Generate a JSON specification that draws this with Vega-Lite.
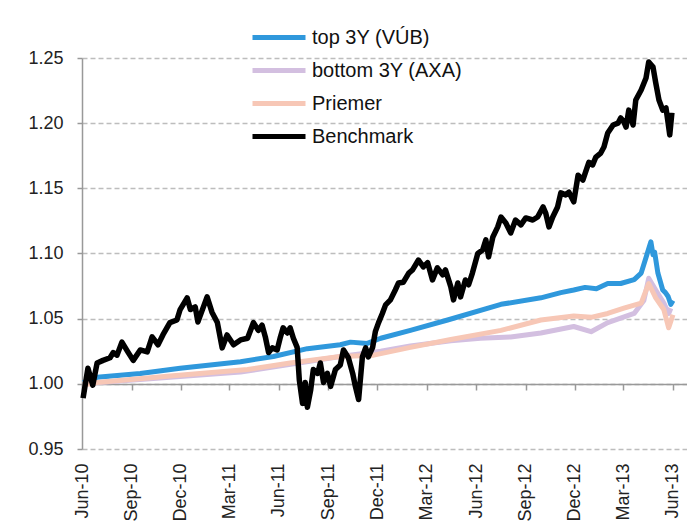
{
  "$schema": "https://vega.github.io/schema/vega-lite/v6.json",
  "autosize": {"type": "none"},
  "padding": {"left": 82, "top": 58, "right": 0, "bottom": 74},
  "width": 605,
  "height": 391,
  "background": "white",
  "config": {
    "view": {"stroke": null},
    "font": "Liberation Sans"
  },
  "data": {"values": [
    {"series": "top 3Y (VÚB)", "date": "2010-06-03", "value": 1.001},
    {"series": "top 3Y (VÚB)", "date": "2010-06-29", "value": 1.005},
    {"series": "top 3Y (VÚB)", "date": "2010-09-17", "value": 1.008},
    {"series": "top 3Y (VÚB)", "date": "2010-11-30", "value": 1.012},
    {"series": "top 3Y (VÚB)", "date": "2011-03-22", "value": 1.017},
    {"series": "top 3Y (VÚB)", "date": "2011-05-22", "value": 1.021},
    {"series": "top 3Y (VÚB)", "date": "2011-07-24", "value": 1.027},
    {"series": "top 3Y (VÚB)", "date": "2011-09-23", "value": 1.030},
    {"series": "top 3Y (VÚB)", "date": "2011-10-12", "value": 1.032},
    {"series": "top 3Y (VÚB)", "date": "2011-11-12", "value": 1.031},
    {"series": "top 3Y (VÚB)", "date": "2011-12-07", "value": 1.035},
    {"series": "top 3Y (VÚB)", "date": "2012-01-31", "value": 1.041},
    {"series": "top 3Y (VÚB)", "date": "2012-04-09", "value": 1.049},
    {"series": "top 3Y (VÚB)", "date": "2012-07-17", "value": 1.061},
    {"series": "top 3Y (VÚB)", "date": "2012-09-29", "value": 1.066},
    {"series": "top 3Y (VÚB)", "date": "2012-11-05", "value": 1.070},
    {"series": "top 3Y (VÚB)", "date": "2012-11-29", "value": 1.072},
    {"series": "top 3Y (VÚB)", "date": "2012-12-20", "value": 1.074},
    {"series": "top 3Y (VÚB)", "date": "2013-01-10", "value": 1.073},
    {"series": "top 3Y (VÚB)", "date": "2013-01-31", "value": 1.077},
    {"series": "top 3Y (VÚB)", "date": "2013-02-24", "value": 1.077},
    {"series": "top 3Y (VÚB)", "date": "2013-03-21", "value": 1.080},
    {"series": "top 3Y (VÚB)", "date": "2013-04-03", "value": 1.085},
    {"series": "top 3Y (VÚB)", "date": "2013-04-12", "value": 1.097},
    {"series": "top 3Y (VÚB)", "date": "2013-04-21", "value": 1.109},
    {"series": "top 3Y (VÚB)", "date": "2013-04-25", "value": 1.099},
    {"series": "top 3Y (VÚB)", "date": "2013-04-28", "value": 1.101},
    {"series": "top 3Y (VÚB)", "date": "2013-05-04", "value": 1.085},
    {"series": "top 3Y (VÚB)", "date": "2013-05-13", "value": 1.072},
    {"series": "top 3Y (VÚB)", "date": "2013-05-18", "value": 1.070},
    {"series": "top 3Y (VÚB)", "date": "2013-05-23", "value": 1.067},
    {"series": "top 3Y (VÚB)", "date": "2013-05-28", "value": 1.061},
    {"series": "top 3Y (VÚB)", "date": "2013-06-01", "value": 1.064},
    {"series": "bottom 3Y (AXA)", "date": "2010-06-03", "value": 1.000},
    {"series": "bottom 3Y (AXA)", "date": "2010-11-11", "value": 1.005},
    {"series": "bottom 3Y (AXA)", "date": "2011-03-22", "value": 1.009},
    {"series": "bottom 3Y (AXA)", "date": "2011-09-23", "value": 1.021},
    {"series": "bottom 3Y (AXA)", "date": "2011-12-07", "value": 1.025},
    {"series": "bottom 3Y (AXA)", "date": "2012-01-31", "value": 1.029},
    {"series": "bottom 3Y (AXA)", "date": "2012-04-15", "value": 1.033},
    {"series": "bottom 3Y (AXA)", "date": "2012-06-09", "value": 1.035},
    {"series": "bottom 3Y (AXA)", "date": "2012-08-04", "value": 1.036},
    {"series": "bottom 3Y (AXA)", "date": "2012-09-29", "value": 1.039},
    {"series": "bottom 3Y (AXA)", "date": "2012-11-29", "value": 1.044},
    {"series": "bottom 3Y (AXA)", "date": "2012-12-31", "value": 1.040},
    {"series": "bottom 3Y (AXA)", "date": "2013-01-31", "value": 1.047},
    {"series": "bottom 3Y (AXA)", "date": "2013-03-21", "value": 1.054},
    {"series": "bottom 3Y (AXA)", "date": "2013-04-08", "value": 1.064},
    {"series": "bottom 3Y (AXA)", "date": "2013-04-17", "value": 1.081},
    {"series": "bottom 3Y (AXA)", "date": "2013-04-30", "value": 1.072},
    {"series": "bottom 3Y (AXA)", "date": "2013-05-15", "value": 1.062},
    {"series": "bottom 3Y (AXA)", "date": "2013-05-24", "value": 1.054},
    {"series": "bottom 3Y (AXA)", "date": "2013-05-28", "value": 1.058},
    {"series": "Priemer", "date": "2010-06-03", "value": 0.999},
    {"series": "Priemer", "date": "2010-06-29", "value": 1.001},
    {"series": "Priemer", "date": "2010-11-11", "value": 1.006},
    {"series": "Priemer", "date": "2011-04-04", "value": 1.011},
    {"series": "Priemer", "date": "2011-06-22", "value": 1.016},
    {"series": "Priemer", "date": "2011-09-23", "value": 1.021},
    {"series": "Priemer", "date": "2011-11-24", "value": 1.022},
    {"series": "Priemer", "date": "2012-01-31", "value": 1.028},
    {"series": "Priemer", "date": "2012-04-15", "value": 1.034},
    {"series": "Priemer", "date": "2012-07-17", "value": 1.041},
    {"series": "Priemer", "date": "2012-09-29", "value": 1.049},
    {"series": "Priemer", "date": "2012-11-29", "value": 1.052},
    {"series": "Priemer", "date": "2012-12-31", "value": 1.051},
    {"series": "Priemer", "date": "2013-01-31", "value": 1.054},
    {"series": "Priemer", "date": "2013-03-02", "value": 1.058},
    {"series": "Priemer", "date": "2013-04-03", "value": 1.062},
    {"series": "Priemer", "date": "2013-04-17", "value": 1.077},
    {"series": "Priemer", "date": "2013-04-30", "value": 1.066},
    {"series": "Priemer", "date": "2013-05-15", "value": 1.057},
    {"series": "Priemer", "date": "2013-05-24", "value": 1.043},
    {"series": "Priemer", "date": "2013-06-01", "value": 1.053},
    {"series": "Benchmark", "date": "2010-06-03", "value": 0.989},
    {"series": "Benchmark", "date": "2010-06-12", "value": 1.012},
    {"series": "Benchmark", "date": "2010-06-21", "value": 0.999},
    {"series": "Benchmark", "date": "2010-06-29", "value": 1.016},
    {"series": "Benchmark", "date": "2010-07-10", "value": 1.018},
    {"series": "Benchmark", "date": "2010-07-23", "value": 1.020},
    {"series": "Benchmark", "date": "2010-07-29", "value": 1.024},
    {"series": "Benchmark", "date": "2010-08-05", "value": 1.022},
    {"series": "Benchmark", "date": "2010-08-14", "value": 1.032},
    {"series": "Benchmark", "date": "2010-08-25", "value": 1.0245},
    {"series": "Benchmark", "date": "2010-09-04", "value": 1.018},
    {"series": "Benchmark", "date": "2010-09-17", "value": 1.026},
    {"series": "Benchmark", "date": "2010-09-30", "value": 1.0245},
    {"series": "Benchmark", "date": "2010-10-09", "value": 1.036},
    {"series": "Benchmark", "date": "2010-10-20", "value": 1.030},
    {"series": "Benchmark", "date": "2010-10-29", "value": 1.0375},
    {"series": "Benchmark", "date": "2010-11-11", "value": 1.047},
    {"series": "Benchmark", "date": "2010-11-24", "value": 1.049},
    {"series": "Benchmark", "date": "2010-11-30", "value": 1.057},
    {"series": "Benchmark", "date": "2010-12-13", "value": 1.066},
    {"series": "Benchmark", "date": "2010-12-19", "value": 1.057},
    {"series": "Benchmark", "date": "2010-12-28", "value": 1.059},
    {"series": "Benchmark", "date": "2011-01-02", "value": 1.0475},
    {"series": "Benchmark", "date": "2011-01-19", "value": 1.0667},
    {"series": "Benchmark", "date": "2011-01-28", "value": 1.055},
    {"series": "Benchmark", "date": "2011-02-07", "value": 1.047},
    {"series": "Benchmark", "date": "2011-02-16", "value": 1.0276},
    {"series": "Benchmark", "date": "2011-02-25", "value": 1.0375},
    {"series": "Benchmark", "date": "2011-03-09", "value": 1.030},
    {"series": "Benchmark", "date": "2011-03-22", "value": 1.0337},
    {"series": "Benchmark", "date": "2011-04-04", "value": 1.035},
    {"series": "Benchmark", "date": "2011-04-15", "value": 1.047},
    {"series": "Benchmark", "date": "2011-04-24", "value": 1.041},
    {"series": "Benchmark", "date": "2011-05-01", "value": 1.045},
    {"series": "Benchmark", "date": "2011-05-07", "value": 1.036},
    {"series": "Benchmark", "date": "2011-05-13", "value": 1.024},
    {"series": "Benchmark", "date": "2011-05-20", "value": 1.0276},
    {"series": "Benchmark", "date": "2011-05-29", "value": 1.026},
    {"series": "Benchmark", "date": "2011-06-04", "value": 1.036},
    {"series": "Benchmark", "date": "2011-06-09", "value": 1.043},
    {"series": "Benchmark", "date": "2011-06-17", "value": 1.039},
    {"series": "Benchmark", "date": "2011-06-22", "value": 1.043},
    {"series": "Benchmark", "date": "2011-06-28", "value": 1.035},
    {"series": "Benchmark", "date": "2011-07-05", "value": 1.028},
    {"series": "Benchmark", "date": "2011-07-09", "value": 1.003},
    {"series": "Benchmark", "date": "2011-07-15", "value": 0.985},
    {"series": "Benchmark", "date": "2011-07-20", "value": 1.001},
    {"series": "Benchmark", "date": "2011-07-24", "value": 0.982},
    {"series": "Benchmark", "date": "2011-07-30", "value": 0.995},
    {"series": "Benchmark", "date": "2011-08-04", "value": 1.011},
    {"series": "Benchmark", "date": "2011-08-12", "value": 1.008},
    {"series": "Benchmark", "date": "2011-08-17", "value": 1.016},
    {"series": "Benchmark", "date": "2011-08-23", "value": 1.001},
    {"series": "Benchmark", "date": "2011-08-30", "value": 1.008},
    {"series": "Benchmark", "date": "2011-09-05", "value": 0.998},
    {"series": "Benchmark", "date": "2011-09-14", "value": 1.011},
    {"series": "Benchmark", "date": "2011-09-23", "value": 1.0145},
    {"series": "Benchmark", "date": "2011-09-29", "value": 1.026},
    {"series": "Benchmark", "date": "2011-10-08", "value": 1.020},
    {"series": "Benchmark", "date": "2011-10-16", "value": 1.008},
    {"series": "Benchmark", "date": "2011-10-21", "value": 0.998},
    {"series": "Benchmark", "date": "2011-10-27", "value": 0.988},
    {"series": "Benchmark", "date": "2011-11-03", "value": 1.0207},
    {"series": "Benchmark", "date": "2011-11-09", "value": 1.0276},
    {"series": "Benchmark", "date": "2011-11-14", "value": 1.0207},
    {"series": "Benchmark", "date": "2011-11-22", "value": 1.028},
    {"series": "Benchmark", "date": "2011-11-27", "value": 1.040},
    {"series": "Benchmark", "date": "2011-12-03", "value": 1.047},
    {"series": "Benchmark", "date": "2011-12-10", "value": 1.054},
    {"series": "Benchmark", "date": "2011-12-16", "value": 1.0606},
    {"series": "Benchmark", "date": "2011-12-25", "value": 1.0644},
    {"series": "Benchmark", "date": "2012-01-03", "value": 1.072},
    {"series": "Benchmark", "date": "2012-01-09", "value": 1.0774},
    {"series": "Benchmark", "date": "2012-01-18", "value": 1.078},
    {"series": "Benchmark", "date": "2012-01-28", "value": 1.085},
    {"series": "Benchmark", "date": "2012-02-04", "value": 1.0874},
    {"series": "Benchmark", "date": "2012-02-15", "value": 1.095},
    {"series": "Benchmark", "date": "2012-02-24", "value": 1.0897},
    {"series": "Benchmark", "date": "2012-03-03", "value": 1.093},
    {"series": "Benchmark", "date": "2012-03-12", "value": 1.0797},
    {"series": "Benchmark", "date": "2012-03-21", "value": 1.089},
    {"series": "Benchmark", "date": "2012-03-31", "value": 1.0836},
    {"series": "Benchmark", "date": "2012-04-05", "value": 1.0874},
    {"series": "Benchmark", "date": "2012-04-15", "value": 1.0744},
    {"series": "Benchmark", "date": "2012-04-20", "value": 1.0644},
    {"series": "Benchmark", "date": "2012-04-28", "value": 1.0774},
    {"series": "Benchmark", "date": "2012-05-03", "value": 1.0667},
    {"series": "Benchmark", "date": "2012-05-12", "value": 1.0797},
    {"series": "Benchmark", "date": "2012-05-18", "value": 1.076},
    {"series": "Benchmark", "date": "2012-05-25", "value": 1.085},
    {"series": "Benchmark", "date": "2012-06-04", "value": 1.100},
    {"series": "Benchmark", "date": "2012-06-13", "value": 1.1027},
    {"series": "Benchmark", "date": "2012-06-19", "value": 1.1104},
    {"series": "Benchmark", "date": "2012-06-24", "value": 1.0974},
    {"series": "Benchmark", "date": "2012-07-02", "value": 1.1127},
    {"series": "Benchmark", "date": "2012-07-11", "value": 1.1204},
    {"series": "Benchmark", "date": "2012-07-17", "value": 1.128},
    {"series": "Benchmark", "date": "2012-07-26", "value": 1.1234},
    {"series": "Benchmark", "date": "2012-08-04", "value": 1.1158},
    {"series": "Benchmark", "date": "2012-08-13", "value": 1.1257},
    {"series": "Benchmark", "date": "2012-08-23", "value": 1.122},
    {"series": "Benchmark", "date": "2012-09-01", "value": 1.1273},
    {"series": "Benchmark", "date": "2012-09-14", "value": 1.1257},
    {"series": "Benchmark", "date": "2012-09-23", "value": 1.128},
    {"series": "Benchmark", "date": "2012-10-03", "value": 1.1357},
    {"series": "Benchmark", "date": "2012-10-08", "value": 1.131},
    {"series": "Benchmark", "date": "2012-10-14", "value": 1.1204},
    {"series": "Benchmark", "date": "2012-10-21", "value": 1.128},
    {"series": "Benchmark", "date": "2012-10-30", "value": 1.1357},
    {"series": "Benchmark", "date": "2012-11-05", "value": 1.1465},
    {"series": "Benchmark", "date": "2012-11-14", "value": 1.145},
    {"series": "Benchmark", "date": "2012-11-20", "value": 1.147},
    {"series": "Benchmark", "date": "2012-11-29", "value": 1.1396},
    {"series": "Benchmark", "date": "2012-12-07", "value": 1.160},
    {"series": "Benchmark", "date": "2012-12-16", "value": 1.1564},
    {"series": "Benchmark", "date": "2012-12-21", "value": 1.1626},
    {"series": "Benchmark", "date": "2012-12-27", "value": 1.170},
    {"series": "Benchmark", "date": "2013-01-03", "value": 1.168},
    {"series": "Benchmark", "date": "2013-01-09", "value": 1.174},
    {"series": "Benchmark", "date": "2013-01-18", "value": 1.1771},
    {"series": "Benchmark", "date": "2013-01-24", "value": 1.1817},
    {"series": "Benchmark", "date": "2013-01-31", "value": 1.1925},
    {"series": "Benchmark", "date": "2013-02-10", "value": 1.1986},
    {"series": "Benchmark", "date": "2013-02-19", "value": 1.200},
    {"series": "Benchmark", "date": "2013-02-24", "value": 1.204},
    {"series": "Benchmark", "date": "2013-03-02", "value": 1.201},
    {"series": "Benchmark", "date": "2013-03-06", "value": 1.197},
    {"series": "Benchmark", "date": "2013-03-11", "value": 1.210},
    {"series": "Benchmark", "date": "2013-03-19", "value": 1.1986},
    {"series": "Benchmark", "date": "2013-03-24", "value": 1.2178},
    {"series": "Benchmark", "date": "2013-04-03", "value": 1.2255},
    {"series": "Benchmark", "date": "2013-04-12", "value": 1.2347},
    {"series": "Benchmark", "date": "2013-04-17", "value": 1.247},
    {"series": "Benchmark", "date": "2013-04-25", "value": 1.243},
    {"series": "Benchmark", "date": "2013-04-30", "value": 1.231},
    {"series": "Benchmark", "date": "2013-05-06", "value": 1.2178},
    {"series": "Benchmark", "date": "2013-05-13", "value": 1.210},
    {"series": "Benchmark", "date": "2013-05-19", "value": 1.2117},
    {"series": "Benchmark", "date": "2013-05-23", "value": 1.200},
    {"series": "Benchmark", "date": "2013-05-26", "value": 1.191},
    {"series": "Benchmark", "date": "2013-05-30", "value": 1.208}
  ]},
  "encoding": {
    "x": {
      "field": "date", "type": "temporal",
      "scale": {"domain": [{"year": 2010, "month": 6, "date": 1}, {"year": 2013, "month": 6, "date": 27}]},
      "axis": {
        "title": null,
        "format": "%b-%y",
        "values": [
          {"year": 2010, "month": 6, "date": 1}, {"year": 2010, "month": 9, "date": 1}, {"year": 2010, "month": 12, "date": 1},
          {"year": 2011, "month": 3, "date": 1}, {"year": 2011, "month": 6, "date": 1}, {"year": 2011, "month": 9, "date": 1},
          {"year": 2011, "month": 12, "date": 1}, {"year": 2012, "month": 3, "date": 1}, {"year": 2012, "month": 6, "date": 1},
          {"year": 2012, "month": 9, "date": 1}, {"year": 2012, "month": 12, "date": 1}, {"year": 2013, "month": 3, "date": 1},
          {"year": 2013, "month": 6, "date": 1}
        ],
        "offset": -65,
        "grid": false,
        "domainColor": "#999999",
        "domainWidth": 1.5,
        "tickColor": "#999999",
        "tickWidth": 1.5,
        "tickSize": 6,
        "labelAngle": -90,
        "labelPadding": 73,
        "labelFontSize": 18,
        "labelColor": "#222222",
        "labelFont": "Liberation Sans",
        "labelOverlap": false,
        "labelBound": false,
        "labelFlush": false
      }
    },
    "y": {
      "field": "value", "type": "quantitative",
      "scale": {"domain": [0.95, 1.25], "zero": false, "nice": false},
      "axis": {
        "title": null,
        "values": [0.95, 1.0, 1.05, 1.1, 1.15, 1.2, 1.25],
        "format": ".2f",
        "grid": true,
        "gridColor": "#BDBDBD",
        "gridDash": [5, 3],
        "gridWidth": 1.5,
        "domainColor": "#999999",
        "domainWidth": 1.5,
        "tickColor": "#999999",
        "tickWidth": 1.5,
        "tickSize": 5,
        "labelPadding": 14,
        "labelFontSize": 18,
        "labelColor": "#222222",
        "labelFont": "Liberation Sans"
      }
    },
    "color": {
      "field": "series", "type": "nominal",
      "scale": {
        "domain": ["top 3Y (VÚB)", "bottom 3Y (AXA)", "Priemer", "Benchmark"],
        "range": ["#2F98DC", "#D3BFE0", "#F7C7B6", "#000000"]
      },
      "legend": {
        "title": null,
        "orient": "none",
        "legendX": 168,
        "legendY": -37,
        "padding": 0,
        "symbolType": "stroke",
        "symbolSize": 2809,
        "symbolStrokeWidth": 5,
        "clipHeight": 33,
        "rowPadding": 0,
        "labelOffset": 4,
        "labelFontSize": 20,
        "labelColor": "#111111",
        "labelFont": "Liberation Sans",
        "labelLimit": 300
      }
    }
  },
  "layer": [
    {"transform": [{"filter": "datum.series == 'top 3Y (VÚB)'"}], "mark": {"type": "line", "strokeWidth": 5, "strokeJoin": "round"}},
    {"transform": [{"filter": "datum.series == 'bottom 3Y (AXA)'"}], "mark": {"type": "line", "strokeWidth": 5, "strokeJoin": "round"}},
    {"transform": [{"filter": "datum.series == 'Priemer'"}], "mark": {"type": "line", "strokeWidth": 5, "strokeJoin": "round"}},
    {"transform": [{"filter": "datum.series == 'Benchmark'"}], "mark": {"type": "line", "strokeWidth": 5.5, "strokeJoin": "round"}}
  ]
}
